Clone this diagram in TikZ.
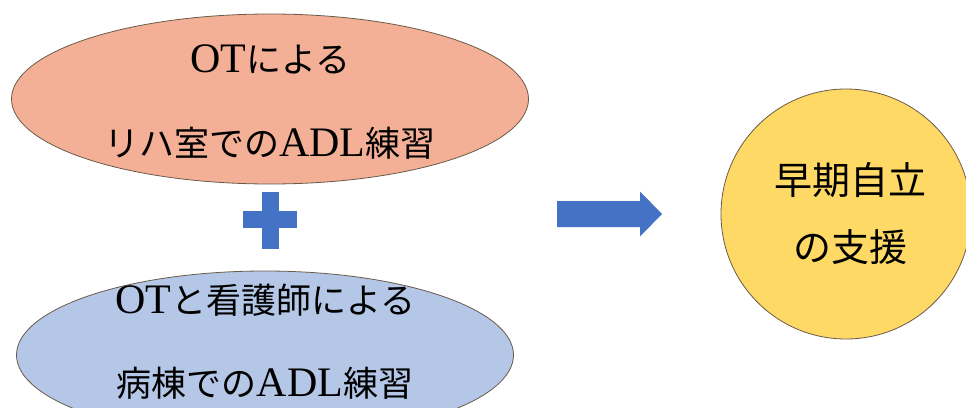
\documentclass[tikz,border=0pt]{standalone}
\usepackage{fontspec}
\setmainfont{Liberation Serif}[Scale=1.2]
\newfontfamily\cjk{Noto Sans CJK JP}
\usetikzlibrary{shapes.geometric}
\definecolor{salmon}{HTML}{F4B096}
\definecolor{lblue}{HTML}{B4C7E7}
\definecolor{gold}{HTML}{FFD966}
\definecolor{accent}{HTML}{4472C4}
\definecolor{edge}{HTML}{6A5A4A}
\tikzset{
  oval/.style={ellipse, draw=edge, line width=0.8pt, inner sep=0pt},
  txt/.style={font=\fontsize{35}{40}\selectfont, inner sep=0pt, text=black},
  bigtxt/.style={font=\fontsize{38}{44}\selectfont, inner sep=0pt, text=black},
}
\begin{document}
\begin{tikzpicture}[x=1pt,y=-1pt]
\useasboundingbox (0,0) rectangle (966,407);
\begin{scope}
\clip (0,0) rectangle (966,407);
% top ellipse
\node[oval, fill=salmon, minimum width=517pt, minimum height=170pt] (top) at (270,99) {};
\node[txt] (t1) at (270,59) {OT{\cjk による}};
\node[txt] (t2) at (270,143) {{\cjk リハ室での}ADL{\cjk 練習}};
% bottom ellipse
\node[oval, fill=lblue, minimum width=497pt, minimum height=168pt] (bot) at (265,355) {};
\node[txt] (b1) at (265,300) {OT{\cjk と看護師による}};
\node[txt] (b2) at (265,383) {{\cjk 病棟での}ADL{\cjk 練習}};
% plus
\fill[accent] (261.5,192) rectangle (278.5,249);
\fill[accent] (243,210.5) rectangle (297,227.5);
\coordinate (plus) at (270,220);
% arrow
\coordinate (arrtail) at (557,214);
\coordinate (arrtip) at (662,214);
\fill[accent] (arrtail) ++(0,-13) -- ++(83,0) -- ++(0,-9.5) -- (arrtip)
  -- (640,236.5) -- ++(0,-9.5) -- ++(-83,0) -- cycle;
% circle
\node[circle, draw=edge, line width=0.8pt, fill=gold, minimum size=250pt, inner sep=0pt] (goal) at (846,214) {};
\node[bigtxt] (g1) at (850,180) {\cjk 早期自立};
\node[bigtxt] (g2) at (850,247) {\cjk の支援};
\end{scope}
\end{tikzpicture}
\end{document}
